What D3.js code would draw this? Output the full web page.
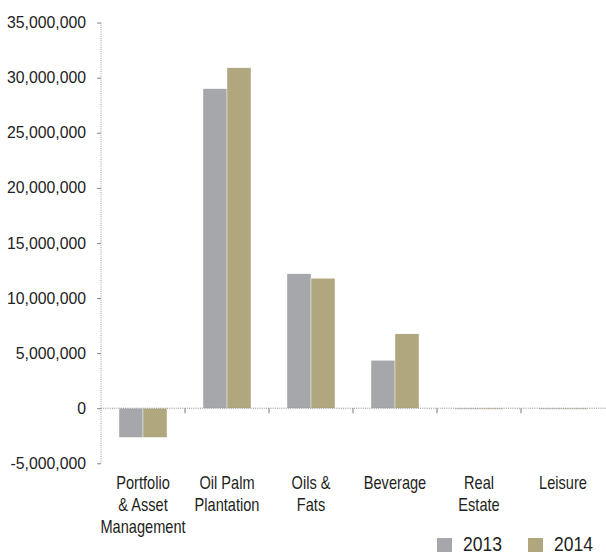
<!DOCTYPE html>
<html><head><meta charset="utf-8">
<script src="https://cdn.jsdelivr.net/npm/d3@7"></script>
<style>
html,body{margin:0;padding:0;background:#fff;}
svg{display:block;}
</style></head>
<body>
<svg id="chart" width="606" height="555"></svg>
<script>
const categories = [["Portfolio","& Asset","Management"],["Oil Palm","Plantation"],["Oils &","Fats"],["Beverage"],["Real","Estate"],["Leisure"]];
const years = ["2013","2014"];
const values2013 = [-2650000, 29000000, 12200000, 4350000, -100000, -100000];
const values2014 = [-2650000, 30900000, 11800000, 6750000, -100000, -100000];
const yTicks = [-5000000, 0, 5000000, 10000000, 15000000, 20000000, 25000000, 30000000, 35000000];
const colors = {"2013":"#a6a7aa","2014":"#b1a77e"};

const svg = d3.select("#chart");
const catKeys = categories.map(c => c.join(" "));
const y = d3.scaleLinear().domain([-5000000, 35000000]).range([463.3, 22.6]);
const x0 = d3.scaleBand().domain(catKeys).range([101, 605]).paddingInner(0).paddingOuter(0);
const x1 = d3.scaleBand().domain(years).range([0, x0.bandwidth()]).paddingInner(0).paddingOuter(0.75);

const baseFont = "'Liberation Sans',Arial,sans-serif";
const fmt = d => d3.format(",")(d).replace("\u2212","-");

// y axis
const yAxis = svg.append("g").attr("transform","translate(101,0)")
  .call(d3.axisLeft(y).tickValues(yTicks).tickFormat(fmt).tickSize(4).tickPadding(11));
yAxis.attr("font-family", baseFont);
yAxis.select(".domain").attr("stroke","#9a9a9a").attr("stroke-dasharray","1,1.2")
  .attr("d", `M0,${y(35000000)}V${y(-5000000)}`);
yAxis.selectAll(".tick line").attr("stroke","#888");
yAxis.selectAll(".tick text").attr("fill","#222").style("font-family",baseFont).style("font-size","15.8px");

// bars
const data = catKeys.map((k,i)=>({key:k, vals:[{year:"2013",v:values2013[i]},{year:"2014",v:values2014[i]}]}));
const g = svg.append("g");
g.selectAll("g.cat").data(data).join("g").attr("class","cat")
  .attr("transform", d=>`translate(${x0(d.key)},0)`)
  .selectAll("rect").data(d=>d.vals).join("rect")
  .attr("x", d=>x1(d.year))
  .attr("width", x1.bandwidth())
  .attr("y", d=>y(Math.max(0,d.v)))
  .attr("height", d=>Math.max(1, Math.abs(y(d.v)-y(0))))
  .attr("fill", d=>colors[d.year])
  .attr("stroke","#ffffff").attr("stroke-width",0.4);

// x axis (zero line)
const xAxis = svg.append("g").attr("transform",`translate(0,${y(0)})`);
xAxis.append("line").attr("x1",101).attr("x2",606).attr("y1",0).attr("y2",0)
  .attr("stroke","#8a8a8a").attr("stroke-dasharray","1,1.2");
xAxis.selectAll("line.tk").data(catKeys.slice(1)).join("line").attr("class","tk")
  .attr("x1",d=>x0(d)).attr("x2",d=>x0(d)).attr("y1",0).attr("y2",5)
  .attr("stroke","#777");

// category labels (narrow look via horizontal scale)
const lbl = svg.append("g").selectAll("text").data(categories).join("text")
  .attr("transform",(d,i)=>`translate(${x0(catKeys[i])+x0.bandwidth()/2},489) scale(0.82,1)`)
  .attr("x",0).attr("y",0)
  .attr("text-anchor","middle")
  .attr("fill","#231f20")
  .style("font-family",baseFont).style("font-size","17.8px");
lbl.selectAll("tspan").data(d=>d).join("tspan")
  .attr("x",0)
  .attr("dy",(d,i)=>i===0?0:22)
  .text(d=>d);

// legend
const leg = svg.append("g");
const legX = [437, 528];
years.forEach((yr,i)=>{
  leg.append("rect").attr("x",legX[i]).attr("y",538).attr("width",15).attr("height",14).attr("fill",colors[yr]);
  leg.append("text").attr("transform",`translate(${legX[i]+26},551) scale(0.9,1)`).text(yr)
    .attr("fill","#231f20").style("font-family",baseFont).style("font-size","19.5px");
});
</script>
</body></html>
